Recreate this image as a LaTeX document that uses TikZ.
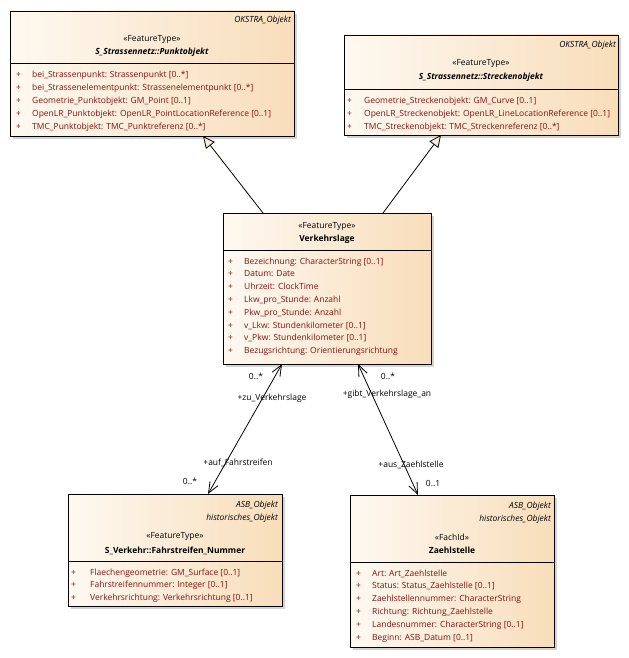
\documentclass[tikz,border=0pt]{standalone}
\usepackage{fontspec}
\setmainfont{Open Sans}
\usetikzlibrary{arrows.meta,calc}
\definecolor{attr}{RGB}{128,18,18}
\definecolor{fillL}{RGB}{254,249,241}
\definecolor{fillR}{RGB}{248,221,186}
\definecolor{shadowc}{RGB}{212,212,212}
\definecolor{trif}{RGB}{252,236,218}
\newcommand\ufont{\fontsize{8.5}{10}\selectfont}
\tikzset{
  umlbox/.style={draw=black, line width=0.9bp, left color=fillL, right color=fillR,
    inner sep=0pt, outer sep=0pt, anchor=north west},
  shadowbox/.style={fill=shadowc, draw=none, inner sep=0pt, outer sep=0pt, anchor=north west},
  attrtxt/.style={font=\ufont, text=attr, inner sep=0pt, anchor=base west},
  stereo/.style={font=\ufont, inner sep=0pt, anchor=base},
  nametxt/.style={font=\ufont\bfseries, inner sep=0pt, anchor=base},
  anametxt/.style={font=\ufont\bfseries\itshape, inner sep=0pt, anchor=base},
  tagtxt/.style={font=\ufont\itshape, inner sep=0pt, anchor=base east},
  sepline/.style={line width=0.9bp},
  gen/.style={line width=0.8bp, -{Triangle[length=12bp,width=11bp,fill=trif,line width=0.8bp]}},
  assoc/.style={line width=0.8bp, {Straight Barb[length=11bp,width=9bp,line width=0.8bp]}-{Straight Barb[length=11bp,width=9bp,line width=0.8bp]}},
  lbl/.style={font=\ufont, inner sep=0pt}
}
\begin{document}
\begin{tikzpicture}[x=1bp,y=-1bp]
\useasboundingbox (0,0) rectangle (629,658);
\fill[white] (0,0) rectangle (629,658);

% ---------- Punktobjekt ----------
\node[shadowbox, minimum width=284bp, minimum height=125bp] (Ps) at (13,14) {};
\node[umlbox, minimum width=284bp, minimum height=125bp] (P) at (10,11) {};
\draw[sepline] (10,63) -- (294,63);
\node[tagtxt] (Pt) at (291,23) {OKSTRA\_Objekt};
\node[stereo] (Pst) at (152,42) {«FeatureType»};
\node[anametxt] (Pn) at (152,55) {S\_Strassennetz::Punktobjekt};
\foreach \t [count=\i from 0] in {bei\_Strassenpunkt: Strassenpunkt [0..*],
  bei\_Strassenelementpunkt: Strassenelementpunkt [0..*],
  Geometrie\_Punktobjekt: GM\_Point [0..1],
  OpenLR\_Punktobjekt: OpenLR\_PointLocationReference [0..1],
  TMC\_Punktobjekt: TMC\_Punktreferenz [0..*]}{
  \node[attrtxt] (Pp\i) at (16,78+\i*12.8) {+};
  \node[attrtxt] (Pa\i) at (32,78+\i*12.8) {\t};
}

% ---------- Streckenobjekt ----------
\node[shadowbox, minimum width=274bp, minimum height=100bp] (Ss) at (347,38) {};
\node[umlbox, minimum width=274bp, minimum height=100bp] (S) at (344,35) {};
\draw[sepline] (344,89) -- (618,89);
\node[tagtxt] (St) at (616,48) {OKSTRA\_Objekt};
\node[stereo] (Sst) at (481,66) {«FeatureType»};
\node[anametxt] (Sn) at (481,80) {S\_Strassennetz::Streckenobjekt};
\foreach \t [count=\i from 0] in {Geometrie\_Streckenobjekt: GM\_Curve [0..1],
  OpenLR\_Streckenobjekt: OpenLR\_LineLocationReference [0..1],
  TMC\_Streckenobjekt: TMC\_Streckenreferenz [0..*]}{
  \node[attrtxt] (Sp\i) at (347,104+\i*12.8) {+};
  \node[attrtxt] (Sa\i) at (364,104+\i*12.8) {\t};
}

% ---------- Verkehrslage ----------
\node[shadowbox, minimum width=208bp, minimum height=151bp] (Vs) at (226,216) {};
\node[umlbox, minimum width=208bp, minimum height=151bp] (V) at (223,213) {};
\draw[sepline] (223,250) -- (431,250);
\node[stereo] (Vst) at (327,228) {«FeatureType»};
\node[nametxt] (Vn) at (327,241) {Verkehrslage};
\foreach \t [count=\i from 0] in {Bezeichnung: CharacterString [0..1],
  Datum: Date, Uhrzeit: ClockTime, Lkw\_pro\_Stunde: Anzahl,
  Pkw\_pro\_Stunde: Anzahl, v\_Lkw: Stundenkilometer [0..1],
  v\_Pkw: Stundenkilometer [0..1], Bezugsrichtung: Orientierungsrichtung}{
  \node[attrtxt] (Vp\i) at (228,264+\i*12.8) {+};
  \node[attrtxt] (Va\i) at (244,264+\i*12.8) {\t};
}

% ---------- Fahrstreifen_Nummer ----------
\node[shadowbox, minimum width=214bp, minimum height=112bp] (Fs) at (71,497) {};
\node[umlbox, minimum width=214bp, minimum height=112bp] (F) at (68,494) {};
\draw[sepline] (68,561) -- (282,561);
\node[tagtxt] (Ft1) at (278,507) {ASB\_Objekt};
\node[tagtxt] (Ft2) at (278,520) {historisches\_Objekt};
\node[stereo] (Fst) at (175,538) {«FeatureType»};
\node[nametxt] (Fn) at (175,553) {S\_Verkehr::Fahrstreifen\_Nummer};
\foreach \t [count=\i from 0] in {Flaechengeometrie: GM\_Surface [0..1],
  Fahrstreifennummer: Integer [0..1],
  Verkehrsrichtung: Verkehrsrichtung [0..1]}{
  \node[attrtxt] (Fp\i) at (71,575+\i*12.8) {+};
  \node[attrtxt] (Fa\i) at (90,575+\i*12.8) {\t};
}

% ---------- Zaehlstelle ----------
\node[shadowbox, minimum width=204bp, minimum height=152bp] (Zs) at (353,498) {};
\node[umlbox, minimum width=204bp, minimum height=152bp] (Z) at (350,495) {};
\draw[sepline] (350,562) -- (554,562);
\node[tagtxt] (Zt1) at (551,508) {ASB\_Objekt};
\node[tagtxt] (Zt2) at (551,521) {historisches\_Objekt};
\node[stereo] (Zst) at (452,540) {«FachId»};
\node[nametxt] (Zn) at (452,553) {Zaehlstelle};
\foreach \t [count=\i from 0] in {Art: Art\_Zaehlstelle,
  Status: Status\_Zaehlstelle [0..1],
  Zaehlstellennummer: CharacterString,
  Richtung: Richtung\_Zaehlstelle,
  Landesnummer: CharacterString [0..1],
  Beginn: ASB\_Datum [0..1]}{
  \node[attrtxt] (Zp\i) at (356,576+\i*12.8) {+};
  \node[attrtxt] (Za\i) at (372,576+\i*12.8) {\t};
}

% ---------- connectors ----------
\coordinate (g1s) at ($(V.north west)+(40,0)$);
\coordinate (g1e) at ($(P.south west)+(193,0)$);
\coordinate (g2s) at ($(V.north west)+(160,0)$);
\coordinate (g2e) at ($(S.south west)+(97,0)$);
\draw[gen] (g1s) -- (g1e);
\draw[gen] (g2s) -- (g2e);

\coordinate (a1s) at ($(V.south west)+(59,0)$);
\coordinate (a1e) at ($(F.north west)+(140,0)$);
\coordinate (a2s) at ($(V.south west)+(135,0)$);
\coordinate (a2e) at ($(Z.north west)+(68,0)$);
\draw[assoc] (a1s) -- (a1e);
\draw[assoc] (a2s) -- (a2e);

\node[lbl] (l1) at (256,376) {0..*};
\node[lbl] (l2) at (272,398) {+zu\_Verkehrslage};
\node[lbl] (l3) at (238,463) {+auf\_Fahrstreifen};
\node[lbl] (l4) at (190,481) {0..*};
\node[lbl] (l5) at (388,376) {0..*};
\node[lbl] (l6) at (387,394) {+gibt\_Verkehrslage\_an};
\node[lbl] (l7) at (411,465) {+aus\_Zaehlstelle};
\node[lbl] (l8) at (433,483) {0..1};
\end{tikzpicture}
\end{document}
